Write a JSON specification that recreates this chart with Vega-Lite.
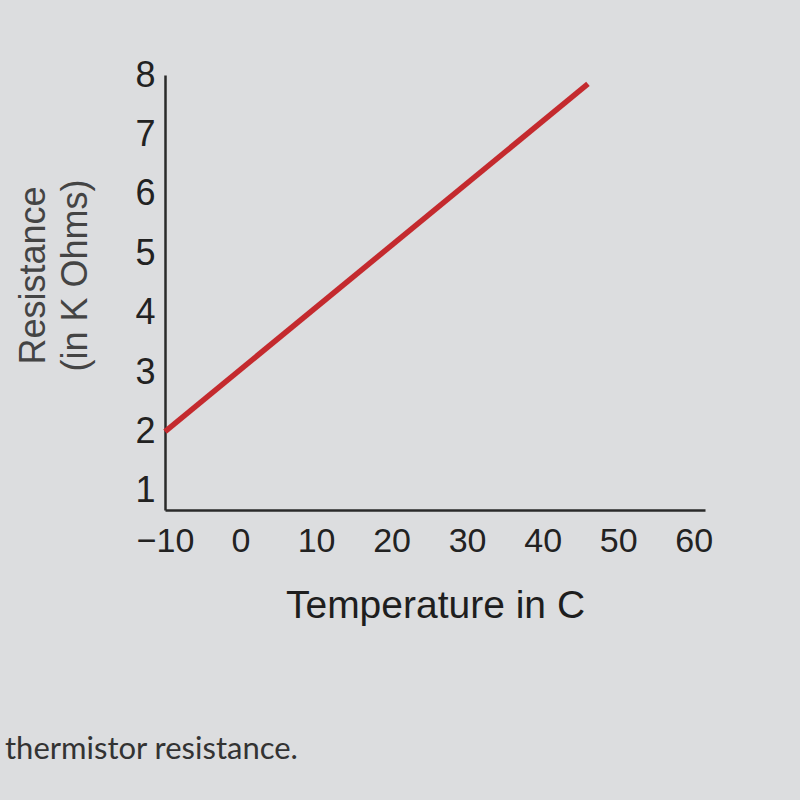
{
  "$schema": "https://vega.github.io/schema/vega-lite/v6.json",
  "width": 540,
  "height": 435,
  "autosize": {"type": "none"},
  "padding": {"left": 165, "top": 75, "right": 95, "bottom": 290},
  "background": "#dcdddf",
  "config": {
    "view": {"stroke": null},
    "font": "Liberation Sans"
  },
  "title": {
    "text": "thermistor resistance.",
    "orient": "bottom",
    "anchor": "start",
    "frame": "group",
    "dx": -160,
    "offset": 110,
    "fontSize": 31,
    "fontWeight": "normal",
    "color": "#333333",
    "font": "Lato"
  },
  "data": {
    "values": [
      {"temperature": -10, "resistance": 2.0},
      {"temperature": 46, "resistance": 7.85}
    ]
  },
  "mark": {"type": "line", "color": "#c42a2e", "strokeWidth": 5.5},
  "encoding": {
    "x": {
      "field": "temperature",
      "type": "quantitative",
      "scale": {"domain": [-10, 61.5], "nice": false, "zero": false},
      "axis": {
        "values": [-10, 0, 10, 20, 30, 40, 50, 60],
        "title": "Temperature in C",
        "grid": false,
        "ticks": false,
        "domainColor": "#2a2a2a",
        "domainWidth": 2.5,
        "labelFontSize": 34,
        "labelColor": "#222222",
        "labelPadding": 14,
        "labelFlush": false,
        "titleFontSize": 39,
        "titleFontWeight": "normal",
        "titleColor": "#1e1e1e",
        "titlePadding": 28
      }
    },
    "y": {
      "field": "resistance",
      "type": "quantitative",
      "scale": {"domain": [0.68, 8], "nice": false, "zero": false},
      "axis": {
        "values": [1, 2, 3, 4, 5, 6, 7, 8],
        "title": ["Resistance", "(in K Ohms)"],
        "grid": false,
        "ticks": false,
        "domainColor": "#2a2a2a",
        "domainWidth": 2.5,
        "labelFontSize": 36,
        "labelColor": "#222222",
        "labelPadding": 10,
        "labelFlush": false,
        "titleFontSize": 36,
        "titleFontWeight": "normal",
        "titleColor": "#444444",
        "titlePadding": 40,
        "titleLineHeight": 42,
        "titleY": 200
      }
    }
  }
}
